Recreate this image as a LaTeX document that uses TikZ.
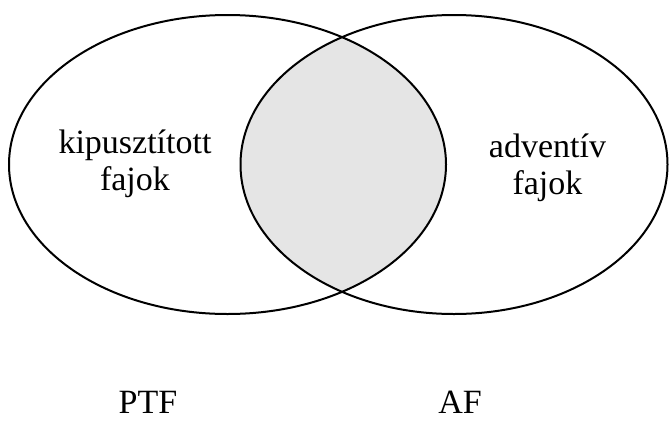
\documentclass[tikz,border=0pt]{standalone}
\usepackage{fontspec}
\setmainfont{Liberation Serif}
\begin{document}
\begin{tikzpicture}[x=1pt,y=-1pt,
  setline/.style={line width=2pt,draw=black},
  label/.style={font=\fontsize{34}{37}\selectfont,inner sep=0pt,align=center,anchor=base},
  setname/.style={font=\fontsize{34}{37}\selectfont,inner sep=0pt,text depth=0pt,anchor=base}]
\useasboundingbox (0,0) rectangle (669,421);
% shared part of the two sets
\begin{scope}
  \clip (227.5,164.5) ellipse [x radius=218.5, y radius=149.5];
  \fill[gray!20] (454,164.5) ellipse [x radius=213.5, y radius=149.5];
\end{scope}
% the two sets
\draw[setline] (227.5,164.5) ellipse [x radius=218.5, y radius=149.5];
\draw[setline] (454,164.5) ellipse [x radius=213.5, y radius=149.5];
% labels inside the sets (anchored at the baseline of the last line)
\node[label] (ptfin) at (135,190) {kipusztított\\fajok};
\node[label] (afin) at (547.5,194) {adventív\\fajok};
% set names
\node[setname] (ptf) at (148,413) {PTF};
\node[setname] (af) at (460,413) {AF};
\end{tikzpicture}
\end{document}
